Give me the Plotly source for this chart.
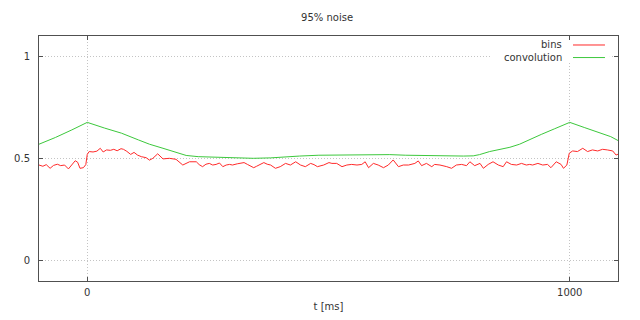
import plotly.graph_objects as go

# ---- data ----
bins_t = [-100, -92, -85, -77, -70, -62, -55, -47, -39, -32, -25, -20, -15, -8, -3,
          0, 4, 12, 20, 27, 33, 40, 48, 55, 62, 70, 75, 82, 90, 97, 104,
          112, 122, 129, 136, 146, 157, 170, 184, 198, 205, 212, 226, 232, 239, 246,
          253, 260, 267, 274, 281, 288, 295, 301,
          311, 318, 325, 332, 338, 345, 351, 356, 366, 373, 380, 390, 400, 411, 421,
          432, 442, 452, 463, 470, 477, 490, 501,
          507, 517, 528, 538, 548, 559, 569, 576, 583, 593, 603, 614, 624, 634, 645,
          655, 666, 679, 686, 693, 703, 714,
          720, 731, 745, 755, 765, 776, 786, 793, 803, 814, 821, 831, 841, 852, 862,
          869, 879, 890, 900, 910,
          917, 923, 934, 944, 954, 961, 972, 982, 987, 994, 999, 1006, 1016, 1027,
          1037, 1047, 1058, 1068, 1078, 1089, 1096, 1100]
bins_v = [0.468, 0.462, 0.470, 0.452, 0.466, 0.472, 0.465, 0.468, 0.449, 0.470, 0.489, 0.482, 0.452, 0.455, 0.470,
          0.520, 0.534, 0.532, 0.536, 0.550, 0.532, 0.542, 0.540, 0.545, 0.538, 0.548, 0.545, 0.535, 0.520, 0.530, 0.517,
          0.509, 0.504, 0.492, 0.501, 0.523, 0.498, 0.501, 0.496, 0.468, 0.475, 0.484, 0.484, 0.470, 0.460, 0.472,
          0.476, 0.468, 0.471, 0.478, 0.460, 0.468, 0.471, 0.468,
          0.474, 0.476, 0.480, 0.471, 0.462, 0.455, 0.462, 0.468, 0.480, 0.472, 0.468, 0.452, 0.460, 0.476, 0.468,
          0.484, 0.468, 0.460, 0.476, 0.470, 0.460, 0.468, 0.480,
          0.476, 0.476, 0.460, 0.468, 0.471, 0.468, 0.471, 0.484, 0.455, 0.476, 0.468, 0.455, 0.468, 0.493, 0.460,
          0.468, 0.468, 0.476, 0.488, 0.465, 0.476, 0.460,
          0.471, 0.468, 0.460, 0.452, 0.468, 0.471, 0.465, 0.484, 0.465, 0.476, 0.452, 0.471, 0.484, 0.468, 0.460,
          0.484, 0.471, 0.468, 0.476, 0.468,
          0.471, 0.468, 0.476, 0.468, 0.471, 0.455, 0.484, 0.471, 0.452, 0.468, 0.526, 0.537, 0.534, 0.550,
          0.534, 0.542, 0.537, 0.545, 0.542, 0.537, 0.517, 0.521]

conv_t = [-100, -66, -32, 0, 36, 71, 106, 129, 157, 184, 205, 230, 260, 300, 344, 380, 400,
          440, 480, 520, 560, 600, 627, 660, 700, 745, 780, 800, 813, 834, 855, 876, 896,
          917, 941, 968, 1000, 1030, 1058, 1085, 1100]
conv_v = [0.570, 0.603, 0.640, 0.677, 0.649, 0.624, 0.591, 0.570, 0.550, 0.530, 0.515, 0.509, 0.507, 0.502, 0.501, 0.503, 0.507,
          0.512, 0.516, 0.517, 0.517, 0.518, 0.519, 0.516, 0.514, 0.511, 0.512, 0.513, 0.519, 0.534, 0.545, 0.555, 0.570,
          0.594, 0.618, 0.645, 0.677, 0.652, 0.629, 0.607, 0.588]

x_ticks = [0, 1000]
y_ticks = [0, 0.5, 1]
y_tick_labels = ["0", "0.5", "1"]

FONT = "DejaVu Sans"
TXT = "#333333"
RED = "#ff2a2a"
GREEN = "#3cc83c"

fig = go.Figure()
fig.add_trace(go.Scatter(x=bins_t, y=bins_v, mode="lines", name="bins",
                         line=dict(color=RED, width=1), showlegend=False))
fig.add_trace(go.Scatter(x=conv_t, y=conv_v, mode="lines", name="convolution",
                         line=dict(color=GREEN, width=1), showlegend=False))

axis_common = dict(showline=True, mirror="allticks", linecolor="#505050", linewidth=1,
                   ticks="inside", ticklen=4, tickcolor="#505050",
                   showgrid=True, gridcolor="#c4c4c4", griddash="1px,2px", gridwidth=1,
                   zeroline=False, automargin=False,
                   tickfont=dict(family=FONT, size=10, color=TXT))

fig.update_xaxes(range=[-100, 1100], tickvals=x_ticks, ticktext=[str(v) for v in x_ticks],
                 title=dict(text="t [ms]", font=dict(family=FONT, size=10, color=TXT), standoff=5),
                 ticklabelstandoff=2, **axis_common)
fig.update_yaxes(range=[-0.1, 1.1], tickvals=y_ticks, ticktext=y_tick_labels,
                 ticklabelstandoff=6, **axis_common)

# legend in gnuplot style (text right-aligned, sample line to the right)
legend_items = [("bins", RED, 0.9633), ("convolution", GREEN, 0.912)]
shapes = [dict(type="rect", xref="paper", yref="paper", x0=0.779, x1=0.986, y0=0.89, y1=0.984,
               fillcolor="white", line=dict(width=0), layer="above")]
annotations = []
for label, col, yy in legend_items:
    annotations.append(dict(text=label, xref="paper", yref="paper", x=0.9067, y=yy,
                            xanchor="right", yanchor="middle", showarrow=False,
                            font=dict(family=FONT, size=10, color=TXT)))
    shapes.append(dict(type="line", xref="paper", yref="paper", x0=0.9223, x1=0.9775, y0=yy, y1=yy,
                       line=dict(color=col, width=1), layer="above"))

fig.update_layout(
    width=640, height=320,
    margin=dict(l=39, r=22, t=36, b=39),
    paper_bgcolor="white", plot_bgcolor="white",
    title=dict(text="95% noise", x=0.511, xanchor="center", y=0.945, yanchor="middle",
               font=dict(family=FONT, size=10, color=TXT)),
    shapes=shapes, annotations=annotations,
)

fig.write_html("out.html")
